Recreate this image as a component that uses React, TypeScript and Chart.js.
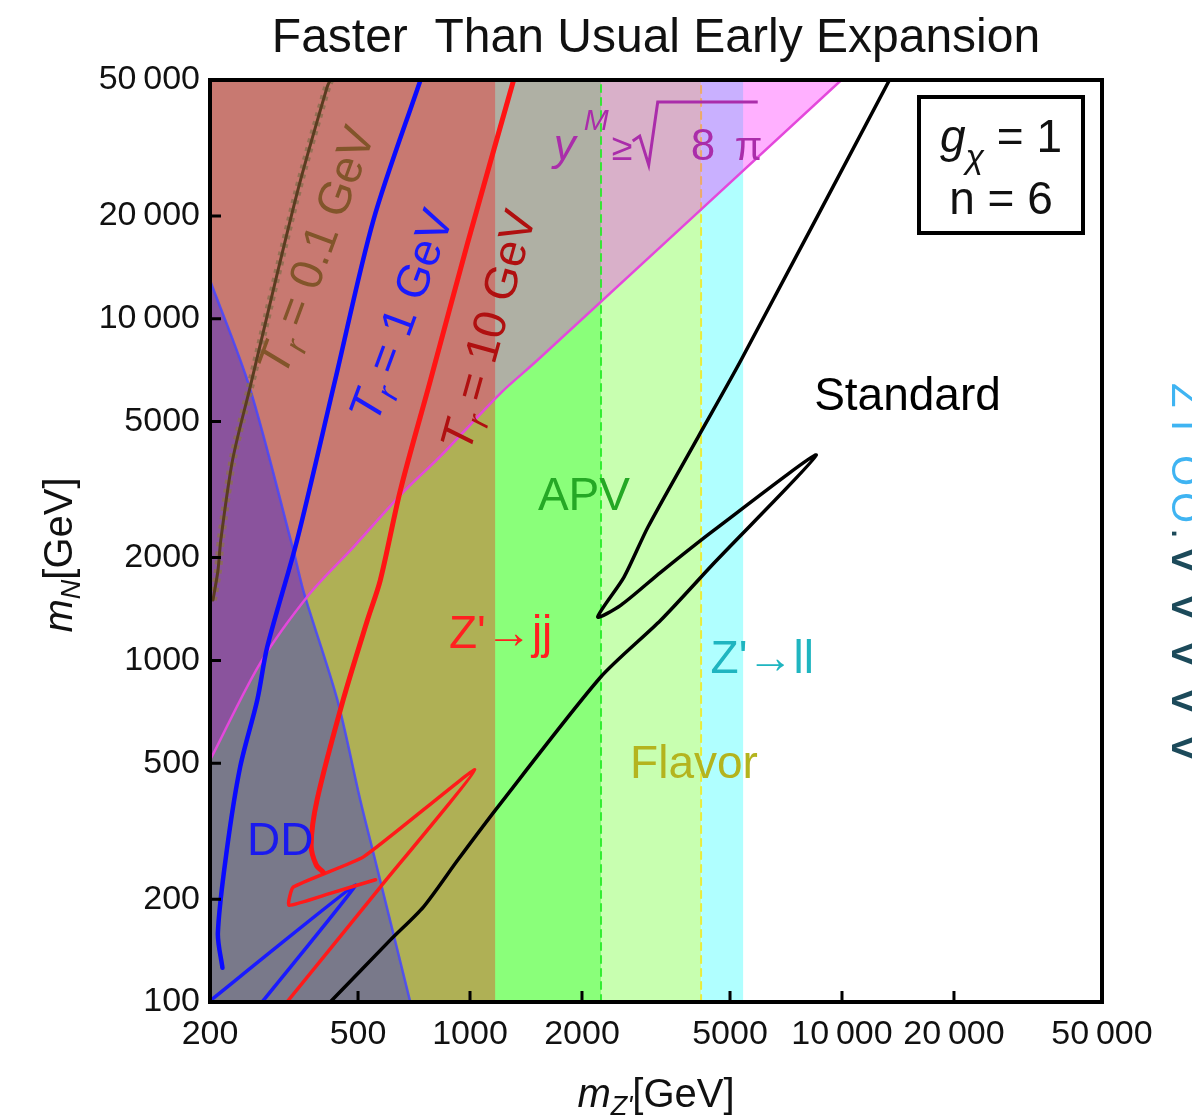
import React, { useEffect, useRef } from 'react';
import { Chart, registerables } from 'chart.js';

Chart.register(...registerables);

const W = 1192;
const H = 1118;
const FONT = '"Liberation Sans", Arial, Helvetica, sans-serif';

// ---- axes ----
const X_MIN = 200;
const X_MAX = 50000;
const Y_MIN = 100;
const Y_MAX = 50000;
const X_TICKS = [200, 500, 1000, 2000, 5000, 10000, 20000, 50000];
const X_TICK_LABELS = ['200', '500', '1000', '2000', '5000', '10\u2009000', '20\u2009000', '50\u2009000'];
const Y_TICKS = [100, 200, 500, 1000, 2000, 5000, 10000, 20000, 50000];
const Y_TICK_LABELS = ['100', '200', '500', '1000', '2000', '5000', '10\u2009000', '20\u2009000', '50\u2009000'];

// ---- excluded bands in m_Z' (GeV) ----
const BAND_JJ = [200, 1170];
const BAND_APV = [200, 2250];
const BAND_FLAVOR = [200, 4180];
const BAND_LL = [4180, 5430];
const APV_EDGE = 2250;
const FLAVOR_EDGE = 4180;
const FLAVOR_EDGE_SPLIT = 20800;

// ---- y^M >= sqrt(8 pi) boundary ----
const YM_X = [200, 273, 372, 486, 650, 833, 1209, 1520, 9960];
const YM_Y = [510, 982, 1574, 2147, 3048, 3963, 6062, 7572, 50000];

// ---- direct detection boundary ----
const DD_X = [200, 256, 335, 358, 440, 507, 550, 691];
const DD_Y = [12980, 6270, 2104, 1574, 766, 390, 273, 100];

// ---- T_r = 0.1 GeV ----
const TR01_X = [203.7, 210, 214, 230, 256, 343, 413, 421];
const TR01_Y = [1502, 1826, 2266, 3859, 6270, 23350, 47700, 50000];

// ---- T_r = 1 GeV ----
const TR1_X = [216, 210, 222, 241, 268, 285, 343, 434, 550, 736];
const TR1_Y = [126, 159, 279, 487, 766, 1094, 2251, 6616, 19450, 50000];
const TR1_LOOP_X = [200.5, 492, 276];
const TR1_LOOP_Y = [101, 220, 100];

// ---- T_r = 10 GeV ----
const TR10_X = [403, 386, 374, 388, 456, 530, 574, 650, 783, 985, 1310];
const TR10_Y = [240, 252, 288, 390, 766, 1313, 1719, 3152, 6616, 16660, 50000];
const TR10_LOOP_X = [322, 574, 1030, 517, 335, 326, 421, 557];
const TR10_LOOP_Y = [100, 217, 478, 266, 217, 192, 208, 228];

// ---- Standard cosmology ----
const STD_X = [421, 611, 750, 926, 1187, 2246, 3260, 4530, 8530, 4530, 3260, 2546, 2205, 2594, 3009, 4103, 5355, 13416];
const STD_Y = [100, 152, 190, 260, 372, 894, 1313, 1928, 3991, 2407, 1814, 1452, 1340, 1754, 2458, 4506, 7572, 50000];

// ---- labels ----
const PLOT_LABELS = [
  { text: 'Standard', x: 15000, y: 5900, color: '#000000', size: 46 },
  { text: 'APV', x: 2024, y: 3008, color: '#25a825', size: 46 },
  { text: "Z'\u2192jj", x: 1209, y: 1187, color: '#ff2020', size: 46 },
  { text: "Z'\u2192ll", x: 6103, y: 1002, color: '#1fb5c0', size: 46 },
  { text: 'Flavor', x: 4000, y: 494, color: '#b4b41e', size: 46 },
  { text: 'DD', x: 309, y: 294, color: '#1a1aee', size: 46 },
];
const TR_LABELS = [
  { value: '0.1', x: 384, y: 15890, angle: -69.7, color: '#82552a' },
  { value: '1', x: 650, y: 10254, angle: -69.7, color: '#1a1aff' },
  { value: '10', x: 1115, y: 9268, angle: -74.4, color: '#b01010' },
];
const YM_LABEL_POS = { x: 1679, y: 32250 };

const pts = (xs: number[], ys: number[]) => xs.map((x, i) => ({ x, y: ys[i] }));

type Run = { t: string; size: number; italic?: boolean; dy?: number; color?: string };

function runFont(r: Run) {
  return `${r.italic ? 'italic ' : ''}${r.size}px ${FONT}`;
}

function drawRuns(ctx: CanvasRenderingContext2D, runs: Run[], x: number, y: number, align: 'left' | 'center') {
  let total = 0;
  for (const r of runs) {
    ctx.font = runFont(r);
    total += ctx.measureText(r.t).width;
  }
  let cx = align === 'center' ? x - total / 2 : x;
  ctx.textAlign = 'left';
  ctx.textBaseline = 'alphabetic';
  for (const r of runs) {
    ctx.font = runFont(r);
    if (r.color) ctx.fillStyle = r.color;
    ctx.fillText(r.t, cx, y + (r.dy || 0));
    cx += ctx.measureText(r.t).width;
  }
}

const overlayPlugin = {
  id: 'overlay',
  afterDatasetsDraw(chart: any) {
    const ctx: CanvasRenderingContext2D = chart.ctx;
    const xs = chart.scales.x;
    const ys = chart.scales.y;
    ctx.save();
    for (const l of PLOT_LABELS) {
      ctx.font = `${l.size}px ${FONT}`;
      ctx.fillStyle = l.color;
      ctx.textAlign = 'center';
      ctx.textBaseline = 'middle';
      ctx.fillText(l.text, xs.getPixelForValue(l.x), ys.getPixelForValue(l.y));
    }
    for (const l of TR_LABELS) {
      ctx.save();
      ctx.translate(xs.getPixelForValue(l.x), ys.getPixelForValue(l.y));
      ctx.rotate((l.angle * Math.PI) / 180);
      ctx.fillStyle = l.color;
      drawRuns(
        ctx,
        [
          { t: 'T', size: 46, italic: true },
          { t: 'r', size: 32, italic: true, dy: 10 },
          { t: ` = ${l.value} GeV`, size: 46 },
        ],
        0,
        16,
        'center'
      );
      ctx.restore();
    }
    const ax = xs.getPixelForValue(YM_LABEL_POS.x);
    const ay = ys.getPixelForValue(YM_LABEL_POS.y);
    const purple = '#aa2daa';
    ctx.fillStyle = purple;
    ctx.textAlign = 'left';
    ctx.textBaseline = 'alphabetic';
    ctx.font = `italic 44px ${FONT}`;
    ctx.fillText('y', ax, ay + 15);
    ctx.font = `italic 30px ${FONT}`;
    ctx.fillText('M', ax + 30, ay - 15);
    ctx.font = `38px ${FONT}`;
    ctx.fillText('\u2265', ax + 58, ay + 15);
    ctx.strokeStyle = purple;
    ctx.lineWidth = 3;
    ctx.beginPath();
    ctx.moveTo(ax + 79, ay - 4);
    ctx.lineTo(ax + 86, ay - 9);
    ctx.lineTo(ax + 95, ay + 20);
    ctx.lineTo(ax + 104, ay - 43);
    ctx.lineTo(ax + 204, ay - 43);
    ctx.stroke();
    ctx.font = `44px ${FONT}`;
    ctx.fillText('8', ax + 137, ay + 15);
    ctx.font = `40px ${FONT}`;
    ctx.fillText('\u03c0', ax + 181, ay + 15);
    ctx.restore();
  },
  afterDraw(chart: any) {
    const ctx: CanvasRenderingContext2D = chart.ctx;
    const a = chart.chartArea;
    const xs = chart.scales.x;
    const ys = chart.scales.y;
    ctx.save();
    ctx.strokeStyle = '#000';
    ctx.lineWidth = 3;
    ctx.beginPath();
    for (const v of X_TICKS) {
      const px = xs.getPixelForValue(v);
      ctx.moveTo(px, a.bottom);
      ctx.lineTo(px, a.bottom - 11);
    }
    for (const v of Y_TICKS) {
      const py = ys.getPixelForValue(v);
      ctx.moveTo(a.left, py);
      ctx.lineTo(a.left + 11, py);
    }
    ctx.stroke();
    ctx.lineWidth = 4;
    ctx.strokeRect(a.left, a.top, a.right - a.left, a.bottom - a.top);

    ctx.fillStyle = '#111';
    ctx.font = `48px ${FONT}`;
    ctx.textAlign = 'center';
    ctx.textBaseline = 'alphabetic';
    ctx.fillText('Faster  Than Usual Early Expansion', (a.left + a.right) / 2, 52);

    const bx = a.right - 183;
    const by = a.top + 17;
    ctx.lineWidth = 4;
    ctx.strokeRect(bx, by, 164, 136);
    ctx.fillStyle = '#111';
    drawRuns(
      ctx,
      [
        { t: 'g', size: 46, italic: true },
        { t: '\u03c7', size: 34, italic: true, dy: 16 },
        { t: ' = 1', size: 46 },
      ],
      bx + 82,
      by + 55,
      'center'
    );
    drawRuns(ctx, [{ t: 'n = 6', size: 46 }], bx + 82, by + 117, 'center');

    ctx.fillStyle = '#111';
    drawRuns(
      ctx,
      [
        { t: 'm', size: 40, italic: true },
        { t: "Z'", size: 27, italic: true, dy: 8 },
        { t: '[GeV]', size: 40 },
      ],
      (a.left + a.right) / 2,
      1107,
      'center'
    );
    ctx.save();
    ctx.translate(58, 555);
    ctx.rotate(-Math.PI / 2);
    drawRuns(
      ctx,
      [
        { t: 'm', size: 40, italic: true },
        { t: 'N', size: 27, italic: true, dy: 8 },
        { t: '[GeV]', size: 40 },
      ],
      0,
      14,
      'center'
    );
    ctx.restore();

    const wm = [
      { ch: 'Z', y: 383, c: '#3fb4f2', s: 40 },
      { ch: 'I', y: 420, c: '#3fb4f2', s: 40 },
      { ch: 'O', y: 455, c: '#3fb4f2', s: 40 },
      { ch: 'O', y: 492, c: '#3fb4f2', s: 40 },
      { ch: '.', y: 528, c: '#1c4a5a', s: 40 },
      { ch: 'v', y: 545, c: '#1c4a5a', s: 60 },
      { ch: 'v', y: 592, c: '#1c4a5a', s: 60 },
      { ch: 'v', y: 639, c: '#1c4a5a', s: 60 },
      { ch: 'v', y: 686, c: '#1c4a5a', s: 60 },
      { ch: 'v', y: 733, c: '#1c4a5a', s: 60 },
    ];
    for (const w of wm) {
      ctx.save();
      ctx.translate(1172, w.y);
      ctx.rotate(Math.PI / 2);
      ctx.font = `${w.s}px ${FONT}`;
      ctx.fillStyle = w.c;
      ctx.textAlign = 'left';
      ctx.textBaseline = 'alphabetic';
      ctx.fillText(w.ch, 0, 0);
      ctx.restore();
    }
    ctx.restore();
  },
};

function band(range: number[], color: string, order: number) {
  return {
    data: [
      { x: range[0], y: Y_MAX },
      { x: range[1], y: Y_MAX },
    ],
    borderWidth: 0,
    borderColor: 'rgba(0,0,0,0)',
    backgroundColor: color,
    fill: 'start',
    pointRadius: 0,
    order,
  };
}

function curve(xs: number[], ys: number[], color: string, width: number, order: number, extra: any = {}) {
  return {
    data: pts(xs, ys),
    borderColor: color,
    borderWidth: width,
    fill: false,
    pointRadius: 0,
    tension: 0.3,
    borderJoinStyle: 'round',
    borderCapStyle: 'round',
    order,
    ...extra,
  };
}

export default function App() {
  const ref = useRef<HTMLCanvasElement | null>(null);

  useEffect(() => {
    if (!ref.current) return;
    const chart = new Chart(ref.current, {
      type: 'line',
      data: {
        datasets: [
          band(BAND_FLAVOR, 'rgba(77,255,0,0.31)', 30),
          band(BAND_APV, 'rgba(0,255,0,0.31)', 29),
          band(BAND_LL, 'rgba(0,255,255,0.31)', 28),
          {
            data: pts(YM_X, YM_Y),
            borderWidth: 0,
            borderColor: 'rgba(0,0,0,0)',
            backgroundColor: 'rgba(255,0,255,0.31)',
            fill: 'end',
            pointRadius: 0,
            tension: 0.3,
            order: 27,
          },
          band(BAND_JJ, 'rgba(255,0,0,0.31)', 26),
          {
            data: pts(DD_X, DD_Y),
            borderWidth: 0,
            borderColor: 'rgba(0,0,0,0)',
            backgroundColor: 'rgba(0,0,255,0.31)',
            fill: 'start',
            pointRadius: 0,
            tension: 0.3,
            order: 25,
          },
          curve([APV_EDGE, APV_EDGE], [Y_MIN, Y_MAX], 'rgba(40,235,40,0.9)', 2, 20, { borderDash: [7, 6], tension: 0 }),
          curve([FLAVOR_EDGE, FLAVOR_EDGE], [Y_MIN, FLAVOR_EDGE_SPLIT], 'rgba(235,235,50,0.95)', 2, 20, { borderDash: [7, 6], tension: 0 }),
          curve([FLAVOR_EDGE, FLAVOR_EDGE], [FLAVOR_EDGE_SPLIT, Y_MAX], 'rgba(240,170,90,0.9)', 2, 20, { borderDash: [7, 6], tension: 0 }),
          curve(YM_X, YM_Y, '#e448dc', 2.5, 15),
          curve(DD_X, DD_Y, 'rgba(70,70,255,0.85)', 2.5, 15),
          curve(TR01_X, TR01_Y, 'rgba(140,110,80,0.85)', 8, 12, { borderDash: [4, 5], borderCapStyle: 'butt' }),
          curve(TR01_X, TR01_Y, '#5a3c20', 3, 11),
          curve(TR1_X, TR1_Y, '#0a0aff', 4.5, 10),
          curve(TR1_LOOP_X, TR1_LOOP_Y, '#1a1aff', 3.5, 10, { tension: 0.1 }),
          curve(TR10_X, TR10_Y, '#ff1414', 5, 9),
          curve(TR10_LOOP_X, TR10_LOOP_Y, '#ff1a1a', 3.5, 9, { tension: 0.15 }),
          curve(STD_X, STD_Y, '#000000', 3.5, 8, { tension: 0.25 }),
        ],
      },
      options: {
        responsive: false,
        maintainAspectRatio: false,
        animation: false,
        devicePixelRatio: 1,
        layout: { padding: { left: 8, right: 90, top: 80, bottom: 0 } },
        plugins: {
          legend: { display: false },
          tooltip: { enabled: false },
          title: { display: false },
        },
        elements: { point: { radius: 0 } },
        scales: {
          x: {
            type: 'logarithmic',
            min: X_MIN,
            max: X_MAX,
            grid: { display: false, drawTicks: false },
            border: { display: false },
            afterBuildTicks: (s: any) => {
              s.ticks = X_TICKS.map((v) => ({ value: v }));
            },
            afterFit: (s: any) => {
              s.height = 116;
            },
            ticks: {
              autoSkip: false,
              maxRotation: 0,
              minRotation: 0,
              padding: 12,
              color: '#111',
              font: { family: FONT, size: 34 },
              callback: (v: any) => {
                const i = X_TICKS.indexOf(Number(v));
                return i >= 0 ? X_TICK_LABELS[i] : '';
              },
            },
          },
          y: {
            type: 'logarithmic',
            min: Y_MIN,
            max: Y_MAX,
            grid: { display: false, drawTicks: false },
            border: { display: false },
            afterBuildTicks: (s: any) => {
              s.ticks = Y_TICKS.map((v) => ({ value: v }));
            },
            afterFit: (s: any) => {
              s.width = 202;
            },
            ticks: {
              autoSkip: false,
              padding: 10,
              color: '#111',
              font: { family: FONT, size: 34 },
              callback: (v: any) => {
                const i = Y_TICKS.indexOf(Number(v));
                return i >= 0 ? Y_TICK_LABELS[i] : '';
              },
            },
          },
        },
      },
      plugins: [overlayPlugin],
    } as any);
    return () => chart.destroy();
  }, []);

  return (
    <div style={{ position: 'absolute', left: 0, top: 0, width: W, height: H, background: '#ffffff' }}>
      <canvas ref={ref} width={W} height={H} style={{ display: 'block', width: W, height: H }} />
    </div>
  );
}
